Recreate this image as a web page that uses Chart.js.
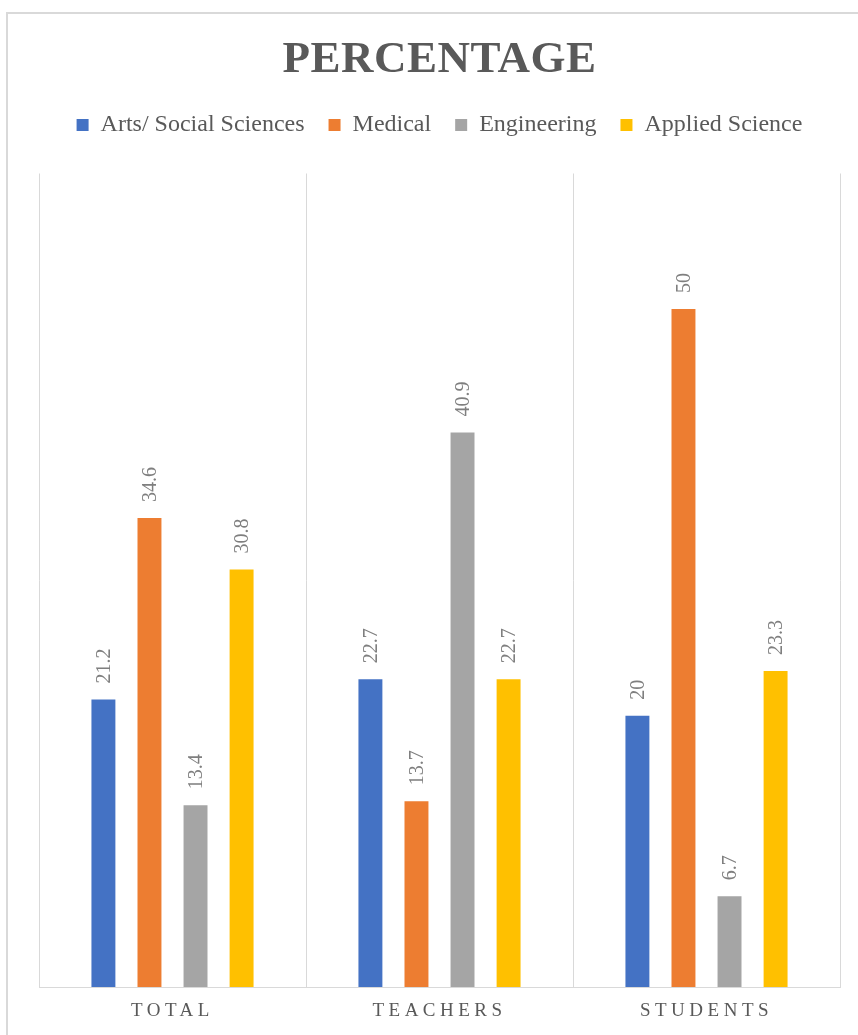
<!DOCTYPE html>
<html>
<head>
<meta charset="utf-8">
<script src="https://cdn.jsdelivr.net/npm/chart.js@4.4.0/dist/chart.umd.min.js"></script>
<style>
  html, body { margin: 0; padding: 0; background: #fff; overflow: hidden; }
  #frame { position: absolute; left: 6px; top: 12px; width: 900px; height: 1100px; border: 2px solid #d9d9d9; box-sizing: border-box; }
  #wrap { position: absolute; left: 0; top: 0; width: 858px; height: 1035px; }
</style>
</head>
<body>
<div id="frame"></div>
<div id="wrap"><canvas id="chart"></canvas></div>
<script>
const categories = ['TOTAL', 'TEACHERS', 'STUDENTS'];
const seriesNames = ['Arts/ Social Sciences', 'Medical', 'Engineering', 'Applied Science'];
const arts = [21.2, 22.7, 20];
const medical = [34.6, 13.7, 50];
const engineering = [13.4, 40.9, 6.7];
const applied = [30.8, 22.7, 23.3];
const colors = ['#4472C4', '#ED7D31', '#A5A5A5', '#FFC000'];

const serif = "'Liberation Serif', 'Times New Roman', serif";
const textGrey = '#595959';

// wrap a draw method so its text gets letter spacing
function spaced(obj, name, spacing) {
  if (!obj || obj['_sp_' + name]) return;
  const orig = obj[name];
  obj[name] = function(...args) {
    const ctx = this.ctx;
    ctx.save();
    ctx.letterSpacing = spacing;
    orig.apply(this, args);
    ctx.restore();
  };
  obj['_sp_' + name] = true;
}

const spacingPlugin = {
  id: 'spacing',
  beforeInit(chart) {
    const fit = chart.legend.fit;
    chart.legend.fit = function() {
      fit.bind(chart.legend)();
      this.height += 26.5;
    };
  },
  beforeDraw(chart) {
    spaced(chart.titleBlock, 'draw', '0.5px');
    spaced(chart.scales.x, 'drawLabels', '4.5px');
  }
};

const barLabels = {
  id: 'barLabels',
  afterDatasetsDraw(chart) {
    const ctx = chart.ctx;
    ctx.save();
    ctx.font = '20px ' + serif;
    ctx.fillStyle = '#7f7f7f';
    ctx.textAlign = 'left';
    ctx.textBaseline = 'middle';
    chart.data.datasets.forEach((ds, i) => {
      chart.getDatasetMeta(i).data.forEach((bar, j) => {
        ctx.save();
        ctx.translate(bar.x + 1, bar.y - 16);
        ctx.rotate(-Math.PI / 2);
        ctx.fillText(String(ds.data[j]), 0, 0);
        ctx.restore();
      });
    });
    ctx.restore();
  }
};

const seriesData = [arts, medical, engineering, applied];

new Chart(document.getElementById('chart'), {
  type: 'bar',
  data: {
    labels: categories,
    datasets: seriesNames.map((name, i) => ({
      label: name,
      data: seriesData[i],
      backgroundColor: colors[i],
      categoryPercentage: 0.69,
      barPercentage: 0.52
    }))
  },
  options: {
    responsive: true,
    maintainAspectRatio: false,
    animation: false,
    layout: { padding: { left: 39, right: 18, top: 0, bottom: 0 } },
    plugins: {
      title: {
        display: true,
        text: 'PERCENTAGE',
        color: textGrey,
        font: { family: serif, size: 45, weight: 'bold' },
        padding: { top: 33, bottom: 2 }
      },
      legend: {
        position: 'top',
        labels: {
          color: textGrey,
          font: { family: serif, size: 24 },
          boxWidth: 12,
          boxHeight: 12,
          padding: 24
        }
      },
      tooltip: { enabled: false }
    },
    scales: {
      x: {
        grid: { color: '#d9d9d9', lineWidth: 1, drawTicks: false, offset: true },
        border: { color: '#d9d9d9', width: 1 },
        ticks: {
          color: textGrey,
          font: { family: serif, size: 19, lineHeight: 1.05 },
          padding: 14
        }
      },
      y: {
        display: false,
        min: 0,
        max: 60
      }
    }
  },
  plugins: [spacingPlugin, barLabels]
});
</script>
</body>
</html>
